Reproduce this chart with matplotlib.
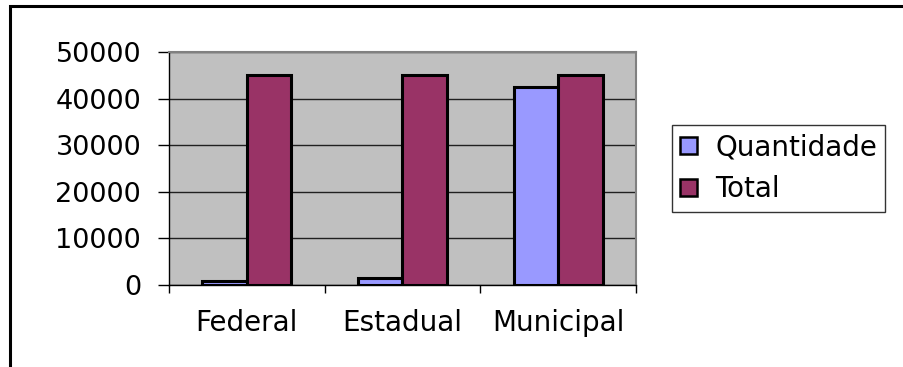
import numpy as np
import matplotlib
matplotlib.use("Agg")
import matplotlib.pyplot as plt
from matplotlib.patches import Rectangle

categories = ["Federal", "Estadual", "Municipal"]
quantidade = [900, 1400, 42500]
total = [45000, 45000, 45000]
series_names = ["Quantidade", "Total"]
yticks = [0, 10000, 20000, 30000, 40000, 50000]

plt.rcParams['font.family'] = 'DejaVu Sans'
W, H = 904, 367
fig = plt.figure(figsize=(W / 100, H / 100), dpi=100)

# outer chart frame (runs off the right and bottom edges)
fig.patches.append(Rectangle((9.5 / W, -0.1), 1.2, (H - 6) / H + 0.1,
                             transform=fig.transFigure, fill=False,
                             edgecolor='black', linewidth=2.2))

ax = fig.add_axes([169 / W, 1 - 285 / H, (636 - 169) / W, (285 - 52) / H])
ax.set_facecolor('#C0C0C0')

x = np.arange(len(categories))
w = 1 / 3.5
b1 = ax.bar(x - w / 2, quantidade, w, color='#9999FF', edgecolor='black',
            linewidth=2.2, label=series_names[0], zorder=3)
b2 = ax.bar(x + w / 2, total, w, color='#993366', edgecolor='black',
            linewidth=2.2, label=series_names[1], zorder=3)

ax.set_xlim(-0.5, len(categories) - 0.5)
ax.set_ylim(0, 50000)
ax.set_yticks(yticks)
ax.set_yticklabels([str(v) for v in yticks], fontsize=19.5)
ax.yaxis.grid(True, color='#202020', linewidth=1.0, zorder=1)
ax.set_axisbelow(True)

ax.set_xticks(np.arange(len(categories) + 1) - 0.5)
ax.set_xticklabels([])
ax.set_xticks(x, minor=True)
ax.set_xticklabels(categories, minor=True, fontsize=20)
ax.tick_params(axis='x', which='minor', length=0, pad=17)
ax.tick_params(axis='x', which='major', length=6, width=1, direction='out')
ax.tick_params(axis='y', length=8, width=1, direction='out', pad=12)

for side in ['top', 'right']:
    ax.spines[side].set_color('#808080')
    ax.spines[side].set_linewidth(1.5)
for side in ['left', 'bottom']:
    ax.spines[side].set_color('black')
    ax.spines[side].set_linewidth(1.0)

leg = fig.legend(handles=[b1, b2], loc='upper left',
                 bbox_to_anchor=(672 / W, 1 - 125 / H),
                 fontsize=20, frameon=True, fancybox=False,
                 handlelength=0.6, handleheight=0.55, handletextpad=0.65,
                 labelspacing=0.5, borderpad=0.3, borderaxespad=0)
leg.get_frame().set_edgecolor('black')
leg.get_frame().set_linewidth(1.0)
for h in leg.legend_handles:
    h.set_linewidth(1.8)

fig.savefig("out.png", dpi=100)
